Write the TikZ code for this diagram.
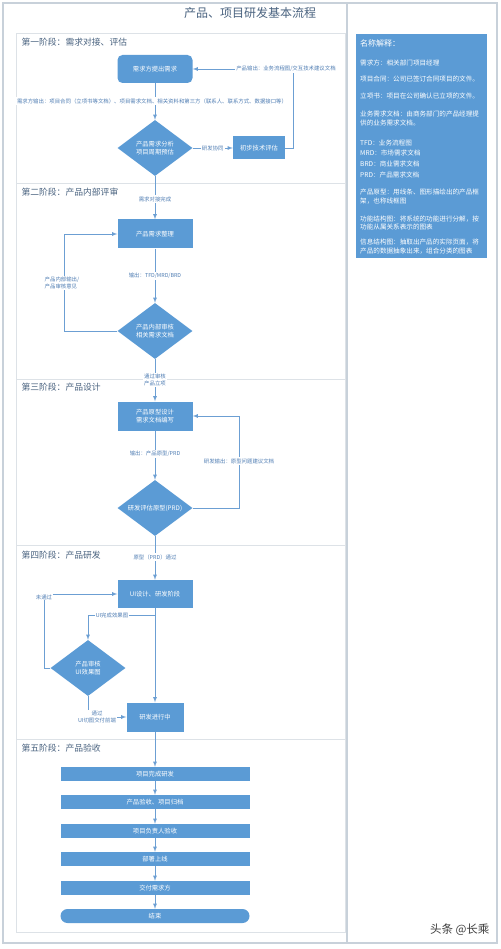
\documentclass[tikz,border=0pt]{standalone}
\usepackage{fontspec}
\setmainfont{Noto Sans CJK SC}
\usetikzlibrary{shapes.geometric}
\definecolor{flowblue}{HTML}{5B9BD5}
\definecolor{lineblue}{HTML}{6C9FD3}
\definecolor{framegray}{HTML}{C8D1DA}
\definecolor{stagegray}{HTML}{DDE2E7}
\definecolor{headtext}{HTML}{4A6380}
\definecolor{labeltext}{HTML}{4F7DB3}
\tikzset{
  procbox/.style={fill=flowblue, text=white, minimum width=75pt, minimum height=28pt,
    inner sep=1pt, align=center, font=\fontsize{6.3}{8}\selectfont},
  startbox/.style={procbox, rounded corners=5pt},
  checkbox/.style={diamond, aspect=1.4, fill=flowblue, text=white, minimum width=75pt,
    minimum height=56pt, inner sep=0pt, align=center, font=\fontsize{6.3}{8}\selectfont},
  stepbar/.style={fill=flowblue, text=white, minimum width=189pt, minimum height=14pt,
    inner sep=0pt, font=\fontsize{6.3}{8}\selectfont},
  flow/.style={draw=lineblue, line width=0.8pt},
  flowtext/.style={fill=white, text=labeltext, inner sep=1pt, align=center,
    font=\fontsize{5.4}{7.5}\selectfont},
  stagehead/.style={anchor=west, text=headtext, font=\fontsize{8.8}{10}\selectfont},
  glosstext/.style={anchor=west, text=white, inner sep=0pt, font=\fontsize{6.6}{8}\selectfont}
}
\begin{document}
\begin{tikzpicture}[x=1pt, y=-1pt, >=latex]
  \useasboundingbox (0,0) rectangle (500,949);
  \fill[white] (0,0) rectangle (500,949);
  % frames
  \draw[framegray, line width=1.2pt] (3,3) rectangle (497,943);
  \draw[framegray, line width=1.2pt] (347,3) -- (347,943);
  \foreach \top/\bot in {33/183, 183/379, 379/545, 545/739, 739/932}
    \draw[stagegray, line width=0.8pt] (16,\top) rectangle (345,\bot);

  \node[text=headtext, font=\fontsize{12}{14}\selectfont] (title) at (250,13) {产品、项目研发基本流程};
  \node[stagehead] (h1) at (18,42) {第一阶段：需求对接、评估};
  \node[stagehead] (h2) at (18,192) {第二阶段：产品内部评审};
  \node[stagehead] (h3) at (18,387) {第三阶段：产品设计};
  \node[stagehead] (h4) at (18,555) {第四阶段：产品研发};
  \node[stagehead] (h5) at (18,748) {第五阶段：产品验收};

  % stage 1
  \node[startbox] (ask) at (155,69) {需求方提出需求};
  \node[checkbox] (analyse) at (155,148) {产品需求分析\\项目周期预估};
  \node[procbox, minimum width=52pt, minimum height=23pt] (tech) at (259,148) {初步技术评估};
  \draw[flow, ->] (ask) -- (analyse);
  \node[flowtext] (askout) at (152,101) {需求方输出：项目合同（立项书等文档）、项目需求文档、相关资料和第三方（联系人、联系方式、数据接口等）};
  \draw[flow, ->] (analyse) -- node[flowtext] {研发协同} (tech);
  \coordinate (back1) at (293,69);
  \draw[flow, ->] (tech.east) -| (back1) -- (ask.east);
  \node[flowtext] (techout) at (286,69) {产品输出：业务流程图/交互技术建议文档};

  % stage 2
  \node[procbox, minimum height=29pt] (sort) at (155,234) {产品需求整理};
  \node[checkbox] (review) at (155,331) {产品内部审核\\相关需求文档};
  \draw[flow, ->] (analyse) -- (sort);
  \node[flowtext] (done1) at (155,199) {需求对接完成};
  \draw[flow, ->] (sort) -- (review);
  \node[flowtext] (out2) at (155,276) {输出：TFD/MRD/BRD};
  \coordinate (back2) at (64,234);
  \draw[flow, ->] (review.west) -| (back2) -- (sort.west);
  \node[flowtext, align=left] (fb2) at (62,283) {产品内部输出/\\产品审核意见};

  % stage 3
  \node[procbox, minimum height=29pt] (proto) at (155,416) {产品原型设计\\需求文档编写};
  \node[checkbox] (assess) at (155,508) {研发评估原型(PRD)};
  \draw[flow, ->] (review) -- (proto);
  \node[flowtext] (pass2) at (155,380) {通过审核\\产品立项};
  \draw[flow, ->] (proto) -- (assess);
  \node[flowtext] (out3) at (155,454) {输出：产品原型/PRD};
  \coordinate (back3) at (239,416);
  \draw[flow, ->] (assess.east) -| (back3) -- (proto.east);
  \node[flowtext] (fb3) at (239,461) {研发输出：原型问题建议文档};

  % stage 4
  \node[procbox] (uidev) at (155,594) {UI设计、研发阶段};
  \node[checkbox] (uicheck) at (88,668) {产品审核\\UI效果图};
  \node[procbox, minimum width=57pt, minimum height=29pt] (coding) at (155,717) {研发进行中};
  \draw[flow, ->] (assess) -- (uidev);
  \node[flowtext] (pass3) at (155,557) {原型（PRD）通过};
  \draw[flow, ->] (uidev) -- (coding);
  \coordinate (split4) at (155,615);
  \draw[flow, ->] (split4) -| (uicheck.north);
  \node[flowtext] (uiout) at (112,615) {UI完成效果图};
  \coordinate (back4) at (44,594);
  \draw[flow, ->] (uicheck.west) -| (back4) -- (uidev.west);
  \node[flowtext] (fail4) at (44,597) {未通过};
  \draw[flow, ->] (uicheck.south) |- (coding.west);
  \node[flowtext] (pass4) at (97,717) {通过\\UI切图交付前端};

  % stage 5
  \foreach \t/\y [count=\i] in {项目完成研发/774, 产品验收、项目归档/802, 项目负责人验收/831, 部署上线/859, 交付需求方/888}
    \node[stepbar] (s\i) at (155,\y) {\t};
  \node[stepbar, rounded corners=7pt] (s6) at (155,916) {结束};
  \draw[flow, ->] (coding) -- (s1);
  \foreach \j [count=\i] in {2,...,6}
    \draw[flow, ->] (s\i) -- (s\j);

  % glossary
  \node[fill=flowblue, anchor=north west, minimum width=131pt, minimum height=224pt, inner sep=0pt] (gloss) at (356,34) {};
  \node[glosstext, font=\fontsize{8}{10}\selectfont] (gtitle) at (360,43) {名称解释：};
  \foreach \y/\t [count=\i] in {63/需求方：相关部门项目经理, 79/项目合同：公司已签订合同项目的文件。,
      96/立项书：项目在公司确认已立项的文件。, 114/业务需求文档：由商务部门的产品经理提,
      123/供的业务需求文档。, 143/TFD：业务流程图, 153/MRD：市场需求文档, 164/BRD：商业需求文档,
      175/PRD：产品需求文档, 192/产品原型：用线条、图形描绘出的产品框, 201/架，也称线框图,
      219/功能结构图：将系统的功能进行分解，按, 227/功能从属关系表示的图表,
      242/信息结构图：抽取出产品的实际页面，将, 251/产品的数据抽象出来，组合分类的图表}
    \node[glosstext] (g\i) at (360,\y) {\t};

  \node[text=black!75, anchor=east, font=\fontsize{11.5}{13}\selectfont] (mark) at (493,930) {头条 @长乘};
\end{tikzpicture}
\end{document}
